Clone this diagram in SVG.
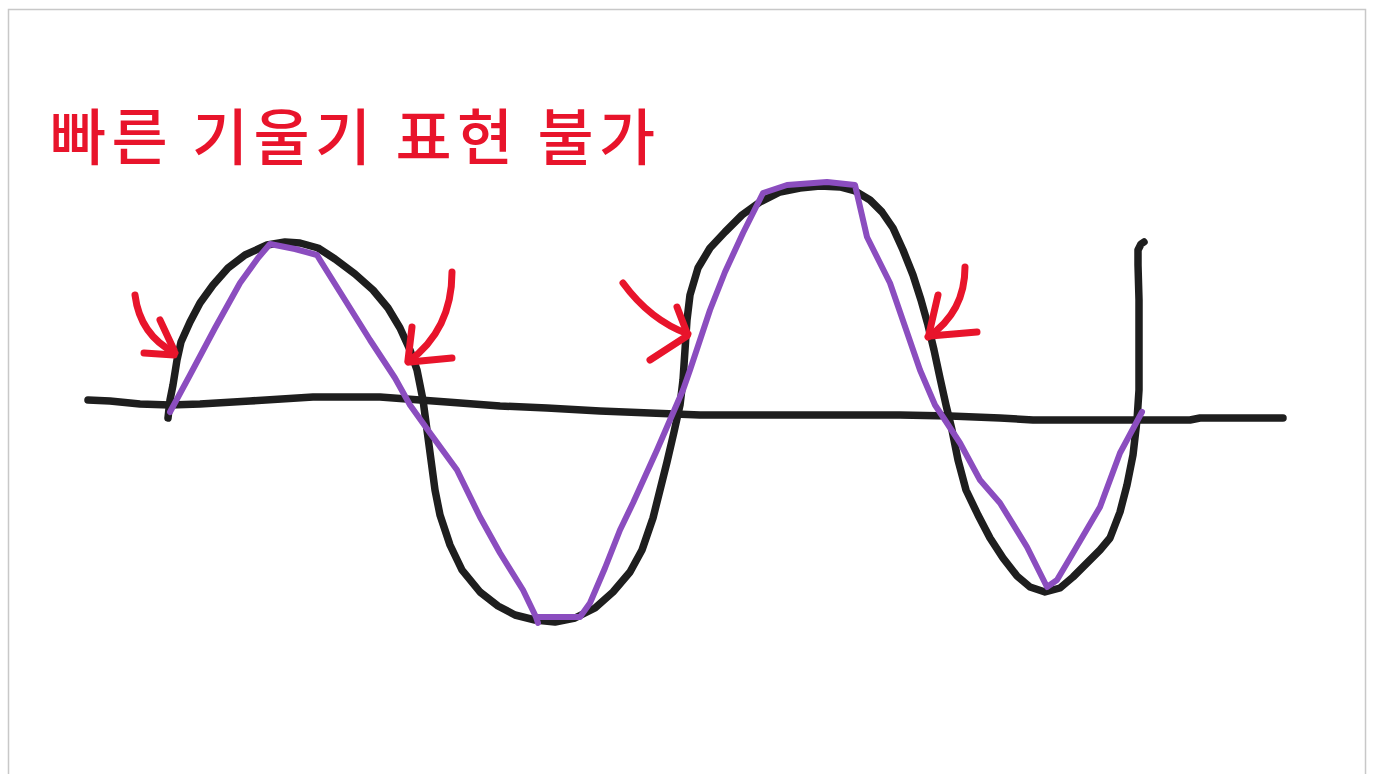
<svg xmlns="http://www.w3.org/2000/svg" width="1375" height="774" viewBox="0 0 1375 774">
<style>
.ink{fill:none;stroke-linecap:round;stroke-linejoin:round}
.blk{stroke:#1e1e1e;stroke-width:7.5}
.pur{stroke:#8b4dbf;stroke-width:6}
.red{stroke:#e8142b;stroke-width:7}
.title{font-family:"Noto Sans CJK KR","Noto Sans",sans-serif;font-size:61px;font-weight:500;fill:#e8142b}
</style>
<rect x="0" y="0" width="1375" height="774" fill="#ffffff"/>
<rect x="8.5" y="9.5" width="1357" height="800" fill="#ffffff" stroke="#c8c8c8" stroke-width="1.5"/>
<g id="title">
<text class="title" x="50" y="160" textLength="605" lengthAdjust="spacing">빠른 기울기 표현 불가</text>
</g>
<g id="axis">
<polyline class="ink blk" points="88,400 110,401 140,404 170,405 200,404 250,401 313,397 380,397 420,400 447,402 500,406 547,408 600,411 650,413 700,415 800,415 900,415 950,416 1000,418 1033,420 1100,420 1190,420 1200,418 1283,418"/>
</g>
<g id="signal">
<polyline class="ink blk" points="168,418 170,400 173,385 177,360 181,342 190,322 200,303 213,285 228,268 245,255 267,245 285,242 300,243 318,248 335,259 355,274 373,290 388,308 400,328 410,350 417,370 423,400 427,430 431,460 435,490 440,515 450,545 462,570 480,592 498,606 515,615 535,620 555,622 575,618 595,608 613,592 630,572 642,550 653,518 660,490 667,462 674,432 680,405 683,380 685,350 687,320 690,295 698,268 710,248 725,232 742,215 760,202 780,192 800,188 820,186 840,187 855,191 870,200 882,212 893,228 903,250 913,275 921,300 928,325 934,350 940,378 946,405 952,430 958,460 966,490 978,515 990,538 1003,558 1017,576 1030,587 1045,592 1060,588 1073,577 1087,563 1100,550 1110,538 1120,512 1127,485 1133,455 1137,420 1139,390 1139,350 1139,300 1138,265 1138,250 1141,244 1144,242"/>
</g>
<g id="approximation">
<polyline class="ink pur" points="170,412 190,375 215,328 240,283 258,258 270,244 295,249 317,255 320,260 345,300 370,340 395,378 410,405 430,433 457,470 480,517 500,553 523,590 536,617 538,623"/>
<polyline class="ink pur" points="538,617 580,617 590,603 605,568 620,530 633,503 657,450 683,390 690,370 710,310 725,272 743,233 763,193 787,185 827,182 855,185 867,237 890,283 920,370 935,405 943,417 960,443 980,480 1000,503 1027,547 1047,587 1057,580 1073,553 1100,507 1120,453 1142,412"/>
</g>
<g id="arrow1">
<path class="ink red" d="M135,295 Q140,335 175,353"/>
<path class="ink red" d="M160,320 L174,350 M144,353 L174,355"/>
</g>
<g id="arrow2">
<path class="ink red" d="M452,272 Q452,330 408,362"/>
<path class="ink red" d="M412,327 L408,360 M452,358 L410,362"/>
</g>
<g id="arrow3">
<path class="ink red" d="M623,283 Q650,320 688,334"/>
<path class="ink red" d="M677,307 L687,333 M650,360 L687,336"/>
</g>
<g id="arrow4">
<path class="ink red" d="M965,267 Q965,312 928,337"/>
<path class="ink red" d="M938,295 L929,334 M977,332 L930,336"/>
</g>
</svg>
